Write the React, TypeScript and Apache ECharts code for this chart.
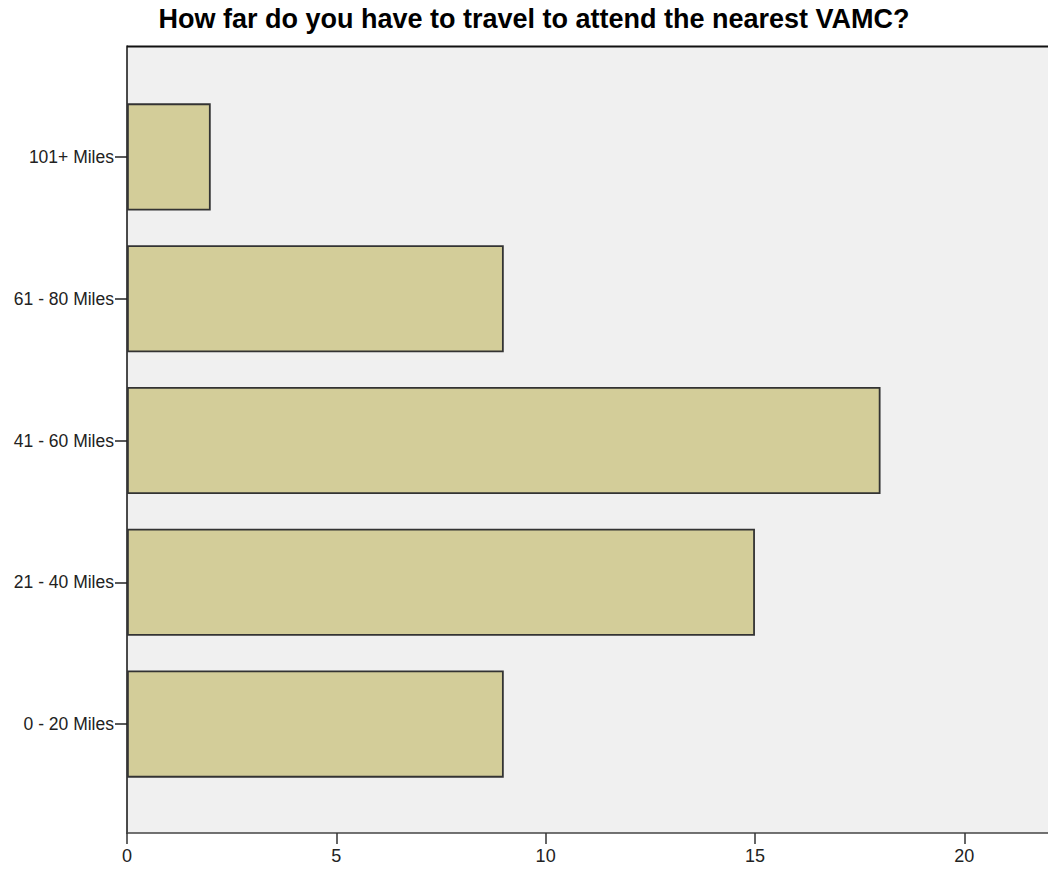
import React, { useEffect, useRef } from "react";
import * as echarts from "echarts";

const categories = ["0 - 20 Miles", "21 - 40 Miles", "41 - 60 Miles", "61 - 80 Miles", "101+ Miles"];
const counts = [9, 15, 18, 9, 2];
const xTicks = [0, 5, 10, 15, 20];

export default function App() {
  const ref = useRef<HTMLDivElement>(null);
  useEffect(() => {
    const chart = echarts.init(ref.current!, null, { renderer: "svg" });
    const font = "'Liberation Sans', Arial, sans-serif";
    chart.setOption({
      animation: false,
      title: {
        text: "How far do you have to travel to attend the nearest VAMC?",
        left: 534,
        textAlign: "center",
        top: 5,
        padding: 0,
        textStyle: { fontFamily: font, fontSize: 27, fontWeight: "bold", color: "#000" },
      },
      grid: [
        { left: 127, right: 0, top: 86, bottom: 76, containLabel: false },
        {
          left: 127, right: 0, top: 46, bottom: 38, containLabel: false,
          show: true, backgroundColor: "#f0f0f0", borderWidth: 0,
        },
      ],
      xAxis: [
        { gridIndex: 0, type: "value", min: 0, max: 22, show: false },
        {
          gridIndex: 1, type: "value", min: 0, max: 22, interval: 5,
          axisLine: { show: true, lineStyle: { color: "#444", width: 1.5 } },
          axisTick: { show: true, length: 11, inside: false, customValues: xTicks, lineStyle: { color: "#333", width: 1.5 } },
          axisLabel: {
            fontFamily: font, fontSize: 18, color: "#222", margin: 14,
            customValues: xTicks,
          },
          splitLine: { show: false },
        },
      ],
      yAxis: [
        {
          gridIndex: 0, type: "category", data: categories,
          axisLine: { show: false },
          axisTick: { show: true, alignWithLabel: true, length: 12, lineStyle: { color: "#222", width: 1.5 } },
          axisLabel: { fontFamily: font, fontSize: 17.5, color: "#222", margin: 13 },
        },
        {
          gridIndex: 1, type: "value", min: 0, max: 1,
          axisLine: { show: true, lineStyle: { color: "#111", width: 1.5 } },
          axisTick: { show: false }, axisLabel: { show: false }, splitLine: { show: false },
        },
      ],
      graphic: [
        { type: "line", shape: { x1: 127, y1: 46.5, x2: 1048, y2: 46.5 }, style: { stroke: "#111", lineWidth: 2 } },
      ],
      series: [
        {
          type: "bar",
          xAxisIndex: 0, yAxisIndex: 0,
          data: counts,
          barCategoryGap: "24.5%",
          itemStyle: { color: "#d3cd99", borderColor: "#333", borderWidth: 1.8 },
        },
      ],
    });
    return () => chart.dispose();
  }, []);
  return <div ref={ref} style={{ width: 1048, height: 871, position: "absolute", left: 0, top: 0 }} />;
}
